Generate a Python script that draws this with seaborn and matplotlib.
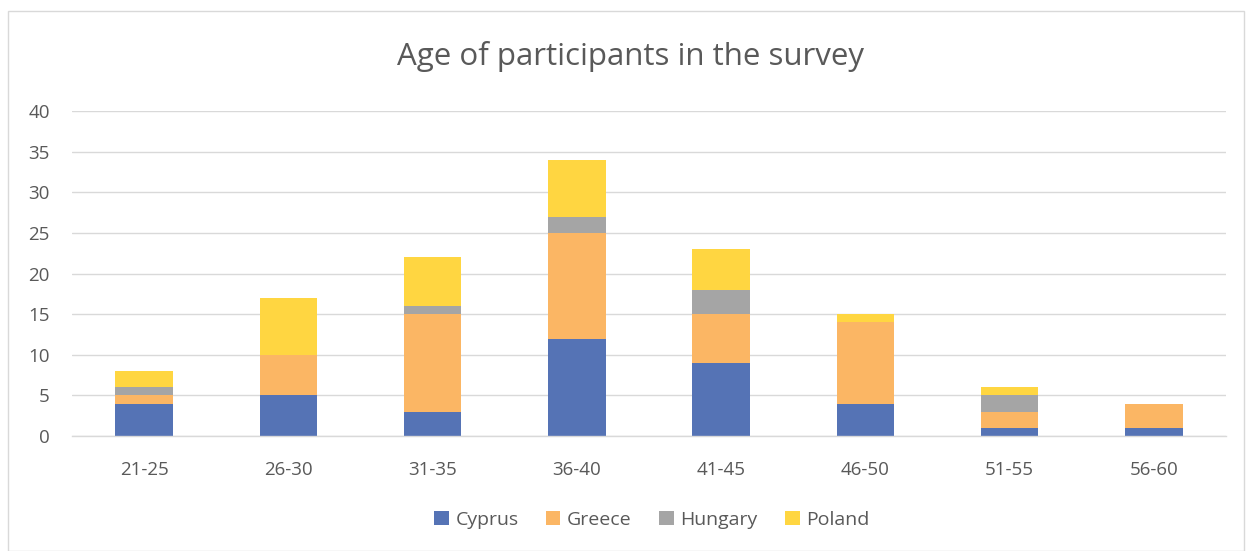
import matplotlib
matplotlib.use("Agg")
import matplotlib.pyplot as plt
import seaborn as sns
import numpy as np
from matplotlib.patches import Rectangle

categories = ["21-25", "26-30", "31-35", "36-40", "41-45", "46-50", "51-55", "56-60"]
cyprus = [4, 5, 3, 12, 9, 4, 1, 1]
greece = [1, 5, 12, 13, 6, 10, 2, 3]
hungary = [1, 0, 1, 2, 3, 0, 2, 0]
poland = [2, 7, 6, 7, 5, 1, 1, 0]
series_names = ["Cyprus", "Greece", "Hungary", "Poland"]
colors = ["#5573B5", "#FBB664", "#A5A5A5", "#FFD641"]

sns.set_theme(style="white")
plt.rcParams['font.family'] = ['Open Sans', 'DejaVu Sans']

fig = plt.figure(figsize=(12.49, 5.51), dpi=100)
ax = fig.add_axes([72/1249, 1-436/551, (1226-72)/1249, (436-111)/551])

bottom = np.zeros(len(categories))
for name, vals, c in zip(series_names, [cyprus, greece, hungary, poland], colors):
    sns.barplot(x=categories, y=vals, bottom=bottom, color=c, width=0.4,
                label=name, ax=ax, saturation=1, edgecolor="none", linewidth=0)
    bottom = bottom + np.array(vals)

ax.set_ylim(0, 40)
ax.set_yticks(range(0, 41, 5))
ax.yaxis.grid(True, color="#D9D9D9", linewidth=1)
ax.set_axisbelow(True)
for s in ["top", "right", "left"]:
    ax.spines[s].set_visible(False)
ax.spines["bottom"].set_color("#D9D9D9")
ax.spines["bottom"].set_linewidth(1)
ax.tick_params(axis="both", length=0, labelsize=13.5, colors="#595959")
ax.tick_params(axis="x", pad=18)
ax.tick_params(axis="y", pad=16)
ax.set_xlabel("")
ax.set_ylabel("")

fig.text(0.505, 1-57/551, "Age of participants in the survey", ha="center", va="center",
         fontsize=22.5, color="#595959")

handles, labels = ax.get_legend_handles_labels()
ax.legend(handles, labels, loc="center", bbox_to_anchor=(0.5025, -(520-436)/325),
          ncol=4, frameon=False, fontsize=14, labelcolor="#595959",
          handlelength=0.75, handleheight=0.75, handletextpad=0.35, columnspacing=1.4)

fig.patches.append(Rectangle((8/1249, 0), 1236/1249, 1-11/551, transform=fig.transFigure,
                             fill=False, edgecolor="#D9D9D9", linewidth=1))

fig.savefig("out.png", dpi=100, facecolor="white")
